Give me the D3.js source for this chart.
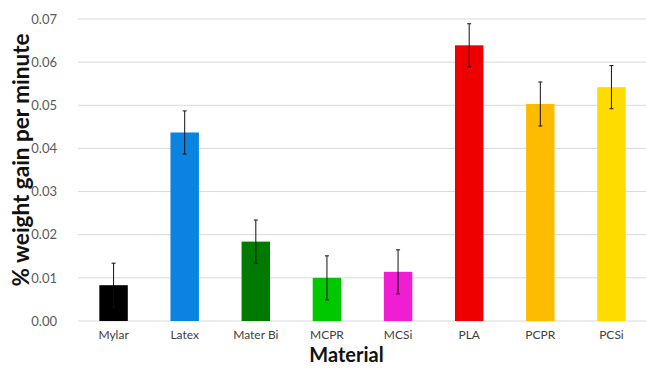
<!DOCTYPE html>
<html>
<head>
<meta charset="utf-8">
<script src="https://cdn.jsdelivr.net/npm/d3@7"></script>
<style>
  html, body { margin: 0; padding: 0; background: #fff; }
  svg { display: block; font-family: Lato, "Open Sans", sans-serif; }
</style>
</head>
<body>
<svg id="chart" width="646" height="369"></svg>
<script>
// Weight gain rate per material, with standard-error bars
const materials = ["Mylar", "Latex", "Mater Bi", "MCPR", "MCSi", "PLA", "PCPR", "PCSi"];
const gainRate  = [0.0083, 0.0437, 0.0184, 0.0100, 0.0114, 0.0639, 0.0503, 0.0542];
const gainError = [0.0051, 0.0050, 0.0050, 0.0051, 0.0051, 0.0050, 0.0051, 0.0050];
const barColors = ["#000000", "#0a84e0", "#007a00", "#00c800", "#f01ed2", "#ee0000", "#ffbb00", "#ffdc00"];
const yTicks    = [0, 0.01, 0.02, 0.03, 0.04, 0.05, 0.06, 0.07];

const svg = d3.select("#chart");
const plot = { left: 78, right: 647, top: 19, bottom: 321 };

const x = d3.scaleBand().domain(materials).range([plot.left, plot.right])
  .paddingInner(0.6).paddingOuter(0.3);
const y = d3.scaleLinear().domain([0, 0.07]).range([plot.bottom, plot.top]);

// horizontal gridlines
svg.append("g").selectAll("line").data(yTicks).join("line")
  .attr("x1", plot.left).attr("x2", 646)
  .attr("y1", d => y(d)).attr("y2", d => y(d))
  .attr("stroke", "#d9d9d9").attr("stroke-width", 1);

// y tick labels
const yAxis = svg.append("g").attr("transform", `translate(${plot.left},0)`)
  .call(d3.axisLeft(y).tickValues(yTicks).tickFormat(d3.format(".2f")).tickSize(0).tickPadding(21));
yAxis.select(".domain").remove();
yAxis.selectAll("text").attr("font-size", 13).attr("fill", "#595959")
  .attr("font-family", "Lato, 'Open Sans', sans-serif");

// bars
svg.append("g").selectAll("rect").data(materials).join("rect")
  .attr("x", d => x(d))
  .attr("width", x.bandwidth())
  .attr("y", (d, i) => y(gainRate[i]))
  .attr("height", (d, i) => y(0) - y(gainRate[i]))
  .attr("fill", (d, i) => barColors[i]);

// error bars
const err = svg.append("g").attr("stroke", "#111").attr("stroke-width", 1);
materials.forEach((m, i) => {
  const cx = x(m) + x.bandwidth() / 2;
  const hi = y(gainRate[i] + gainError[i]);
  const lo = y(gainRate[i] - gainError[i]);
  err.append("line").attr("x1", cx).attr("x2", cx).attr("y1", hi).attr("y2", lo);
  err.append("line").attr("x1", cx - 2).attr("x2", cx + 2).attr("y1", hi).attr("y2", hi);
  err.append("line").attr("x1", cx - 2).attr("x2", cx + 2).attr("y1", lo).attr("y2", lo);
});

// category labels
const xAxis = svg.append("g").attr("transform", `translate(0,${plot.bottom})`)
  .call(d3.axisBottom(x).tickSize(0).tickPadding(9));
xAxis.select(".domain").remove();
xAxis.selectAll("text").attr("font-size", 12).attr("fill", "#404040")
  .attr("font-family", "Lato, 'Open Sans', sans-serif");

// axis titles
svg.append("text")
  .attr("x", (plot.left + plot.right) / 2 - 16).attr("y", 362)
  .attr("text-anchor", "middle").attr("font-size", 20).attr("font-weight", "bold")
  .attr("fill", "#111").text("Material");

svg.append("text")
  .attr("transform", `translate(29,160) rotate(-90)`)
  .attr("text-anchor", "middle").attr("font-size", 22.5).attr("font-weight", "bold")
  .attr("fill", "#111").text("% weight gain per minute");
</script>
</body>
</html>
